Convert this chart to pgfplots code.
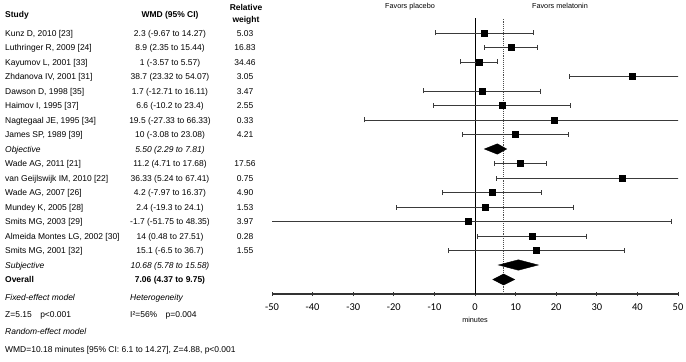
\documentclass[border=0pt]{standalone}
\usepackage{pgfplots}
\pgfplotsset{compat=1.18}
\usepackage{pgfplotstable}
\usepackage{fontspec}
\setmainfont{Liberation Sans}
\newfontfamily\calib{Carlito}
\definecolor{barcol}{HTML}{3A3A3A}

\pgfplotstableread{
x lo hi y
2.3 -9.67 14.27 18
8.9 2.35 15.44 17
1 -3.57 5.57 16
38.7 23.32 54.07 15
1.7 -12.71 16.11 14
6.6 -10.2 23.4 13
19.5 -27.33 66.33 12
10 -3.08 23.08 11
11.2 4.71 17.68 9
36.33 5.24 67.41 8
4.2 -7.97 16.37 7
2.4 -19.3 24.1 6
-1.7 -51.75 48.35 5
14 0.48 27.51 4
15.1 -6.5 36.7 3
}\studies

\newcommand\fs{\fontsize{8.5}{10}\selectfont}

\begin{document}
\begin{tikzpicture}[x=1bp,y=1bp]
\path[use as bounding box] (0,0) rectangle (686,361);
\begin{axis}[
  at={(272bp,67bp)}, anchor=south west,
  scale only axis, width=406bp, height=275.5bp,
  xmin=-50, xmax=50, ymin=0, ymax=19,
  axis y line=none, axis x line*=bottom,
  x axis line style={line width=1.3pt, color=black!80},
  xtick={-50,-40,...,50},
  xticklabels={-50,-40,-30,-20,-10,0,10,20,30,40,50},
  xticklabel style={font=\calib\fontsize{10.5}{12}\selectfont, yshift=-4bp},
  tick align=center, major tick length=4bp,
  tick style={line width=0.8pt, color=black!80},
  ytick=\empty,
  xlabel={minutes},
  xlabel style={font=\fontsize{7.3}{9}\selectfont, yshift=0bp},
]
\addplot[black, line width=0.9pt, forget plot] coordinates {(0,0) (0,19)};
\addplot[black!70, line width=0.9pt, densely dotted, forget plot] coordinates {(7.06,0) (7.06,19)};
\addplot[only marks, mark=square*, mark size=3bp, black,
  error bars/.cd, x dir=both, x explicit,
  error bar style={barcol, line width=0.6pt},
  error mark options={barcol, mark size=2.5bp, rotate=90, line width=0.6pt}]
  table[x=x, y=y,
        x error plus expr=\thisrow{hi}-\thisrow{x},
        x error minus expr=\thisrow{x}-\thisrow{lo}] {\studies};
% pooled estimates (diamonds)
\addplot[fill=black, draw=black] coordinates {(2.29,10) (5.50,10.36) (7.81,10) (5.50,9.64)} -- cycle;
\addplot[fill=black, draw=black] coordinates {(5.78,2) (10.68,2.36) (15.58,2) (10.68,1.64)} -- cycle;
\addplot[fill=black, draw=black] coordinates {(4.37,1) (7.06,1.38) (9.75,1) (7.06,0.62)} -- cycle;
\end{axis}

% headers
\node[anchor=base west, font=\fs\bfseries, inner sep=0] at (5,344) {Study};
\node[anchor=base, font=\fs\bfseries, inner sep=0] at (170,344) {WMD (95\% CI)};
\node[anchor=base, font=\fs\bfseries, inner sep=0] at (246,351) {Relative};
\node[anchor=base, font=\fs\bfseries, inner sep=0] at (246,339) {weight};
\node[anchor=base, font=\fontsize{7.3}{9}\selectfont, inner sep=0] at (410,352.5) {Favors placebo};
\node[anchor=base, font=\fontsize{7.3}{9}\selectfont, inner sep=0] at (560,352.5) {Favors melatonin};

% rows
\foreach \r/\n/\v/\w in {
  1/{Kunz D, 2010 [23]}/{2.3 (-9.67 to 14.27)}/5.03,
  2/{Luthringer R, 2009 [24]}/{8.9 (2.35 to 15.44)}/16.83,
  3/{Kayumov L, 2001 [33]}/{1 (-3.57 to 5.57)}/34.46,
  4/{Zhdanova IV, 2001 [31]}/{38.7 (23.32 to 54.07)}/3.05,
  5/{Dawson D, 1998 [35]}/{1.7 (-12.71 to 16.11)}/3.47,
  6/{Haimov I, 1995 [37]}/{6.6 (-10.2 to 23.4)}/2.55,
  7/{Nagtegaal JE, 1995 [34]}/{19.5 (-27.33 to 66.33)}/0.33,
  8/{James SP, 1989 [39]}/{10 (-3.08 to 23.08)}/4.21,
  10/{Wade AG, 2011 [21]}/{11.2 (4.71 to 17.68)}/17.56,
  11/{van Geijlswijk IM, 2010 [22]}/{36.33 (5.24 to 67.41)}/0.75,
  12/{Wade AG, 2007 [26]}/{4.2 (-7.97 to 16.37)}/4.90,
  13/{Mundey K, 2005 [28]}/{2.4 (-19.3 to 24.1)}/1.53,
  14/{Smits MG, 2003 [29]}/{-1.7 (-51.75 to 48.35)}/3.97,
  15/{Almeida Montes LG, 2002 [30]}/{14 (0.48 to 27.51)}/0.28,
  16/{Smits MG, 2001 [32]}/{15.1 (-6.5 to 36.7)}/1.55}
{
  \node[anchor=base west, font=\fs, inner sep=0] at (5,339.5-14.5*\r) {\n};
  \node[anchor=base, font=\fs, inner sep=0] at (170,339.5-14.5*\r) {\v};
  \node[anchor=base, font=\fs, inner sep=0] at (245,339.5-14.5*\r) {\w};
}
\node[anchor=base west, font=\fs\itshape, inner sep=0] at (5,339.5-14.5*9) {Objective};
\node[anchor=base, font=\fs\itshape, inner sep=0] at (170,339.5-14.5*9) {5.50 (2.29 to 7.81)};
\node[anchor=base west, font=\fs\itshape, inner sep=0] at (5,339.5-14.5*17) {Subjective};
\node[anchor=base, font=\fs\itshape, inner sep=0] at (170,339.5-14.5*17) {10.68 (5.78 to 15.58)};
\node[anchor=base west, font=\fs\bfseries, inner sep=0] at (5,339.5-14.5*18) {Overall};
\node[anchor=base, font=\fs\bfseries, inner sep=0] at (170,339.5-14.5*18) {7.06 (4.37 to 9.75)};

% bottom statistics
\node[anchor=base west, font=\fs\itshape, inner sep=0] at (5,61) {Fixed-effect model};
\node[anchor=base west, font=\fs\itshape, inner sep=0] at (130,61) {Heterogeneity};
\node[anchor=base west, font=\fs, inner sep=0] at (5,44) {Z=5.15\hspace{1em}p<0.001};
\node[anchor=base west, font=\fs, inner sep=0] at (130,44) {I²=56\%\hspace{1em}p=0.004};
\node[anchor=base west, font=\fs\itshape, inner sep=0] at (5,27) {Random-effect model};
\node[anchor=base west, font=\fs, inner sep=0] at (5,9) {WMD=10.18 minutes [95\% CI: 6.1 to 14.27], Z=4.88, p<0.001};
\end{tikzpicture}
\end{document}
